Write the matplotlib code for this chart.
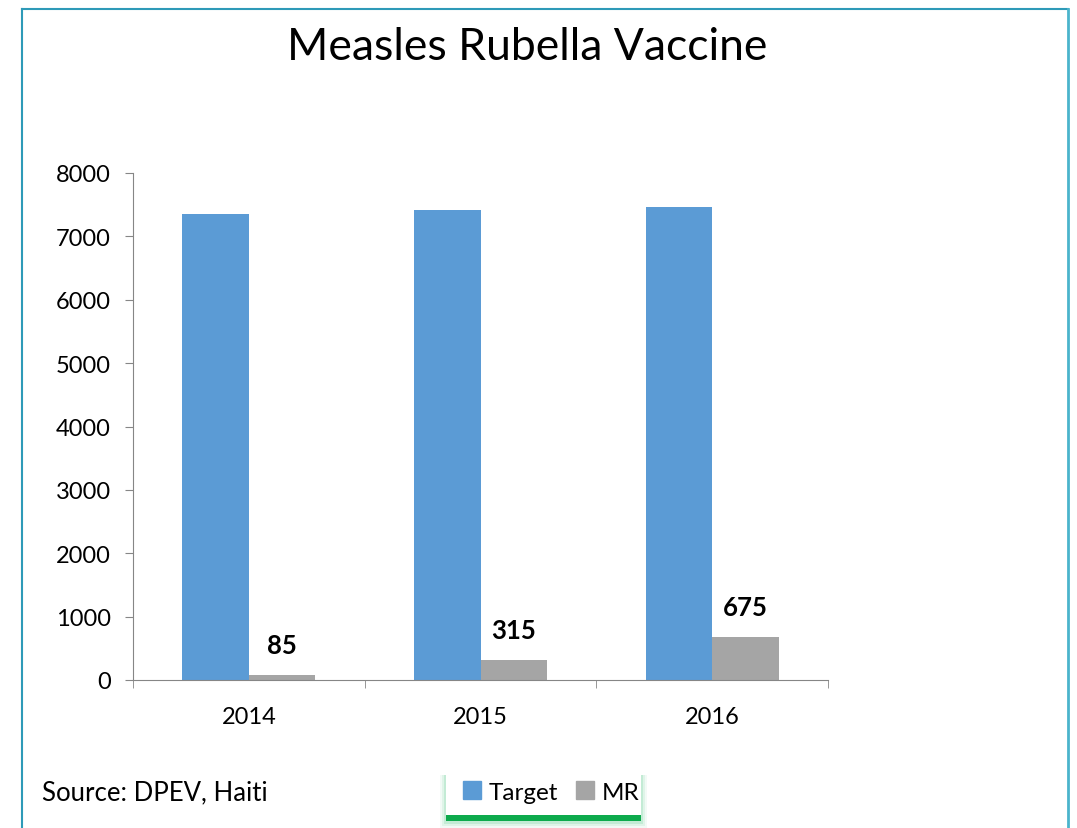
import numpy as np
import matplotlib.pyplot as plt
from matplotlib.patches import Rectangle, Patch

years = ['2014', '2015', '2016']
target = [7350, 7410, 7460]
mr = [85, 315, 675]

plt.rcParams['font.family'] = ['Lato', 'DejaVu Sans']

fig = plt.figure(figsize=(10.77, 8.29), dpi=100)
W, H = 1077, 829

def fx(px):
    return px / W

def fy(py):
    return 1 - py / H

# frame lines (teal)
fig.add_artist(plt.Line2D([fx(22), fx(22)], [0, fy(10)], color='#2E9AB8', lw=1.5))
fig.add_artist(plt.Line2D([fx(22), fx(1068)], [fy(10), fy(10)], color='#2E9AB8', lw=1.5))
fig.add_artist(plt.Line2D([fx(1068), fx(1068)], [0, fy(10)], color='#4BB4CC', lw=2))

ax = fig.add_axes([fx(133), fy(681), fx(828) - fx(133), fy(174) - fy(681)])
x = np.arange(len(years))
w = 0.287
ax.bar(x - w / 2, target, w, color='#5B9BD5', label='Target')
ax.bar(x + w / 2, mr, w, color='#A5A5A5', label='MR')

for xi, v in zip(x, mr):
    ax.text(xi + w / 2, v + 280, str(v), ha='center', va='bottom',
            fontsize=18.5, fontweight='bold')

ax.set_xlim(-0.5, 2.5)
ax.set_ylim(0, 8000)
ax.set_yticks(range(0, 8001, 1000))
ax.set_xticks(x)
ax.set_xticklabels(years)
ax.set_xticks([-0.5, 0.5, 1.5, 2.5], minor=True)
ax.tick_params(axis='x', which='major', length=0, pad=19, labelsize=17)
ax.tick_params(axis='x', which='minor', length=6, color='#868686')
ax.tick_params(axis='y', length=6, color='#868686', labelsize=17, pad=10)
for s in ['top', 'right']:
    ax.spines[s].set_visible(False)
for s in ['left', 'bottom']:
    ax.spines[s].set_color('#868686')

fig.text(fx(527), fy(48), 'Measles Rubella Vaccine', ha='center', va='center', fontsize=32)
fig.text(fx(42), fy(793), 'Source: DPEV, Haiti', ha='left', va='center', fontsize=18.5)

# legend box with green glow, strongest at the bottom
for d, a in [(5, 0.05), (3, 0.08), (1, 0.12)]:
    fig.add_artist(Rectangle((fx(445 - d), fy(824 + d)), fx(642 + d) - fx(445 - d),
                             fy(776) - fy(824 + d), color='#00B050', alpha=a, lw=0))
fig.add_artist(Rectangle((fx(446), fy(822)), fx(641) - fx(446), fy(812) - fy(822),
                         color='#0DAA4C', lw=0))
fig.add_artist(Rectangle((fx(446), fy(816)), fx(641) - fx(446), fy(770) - fy(816),
                         color='white', lw=0))
handles = [Patch(color='#5B9BD5', label='Target'), Patch(color='#A5A5A5', label='MR')]
fig.legend(handles=handles, loc='center', bbox_to_anchor=(fx(551), fy(793)), ncol=2,
           frameon=False, fontsize=17.5, handlelength=0.75, handleheight=0.75,
           handletextpad=0.3, columnspacing=0.75)

fig.savefig('out.png', dpi=100)
